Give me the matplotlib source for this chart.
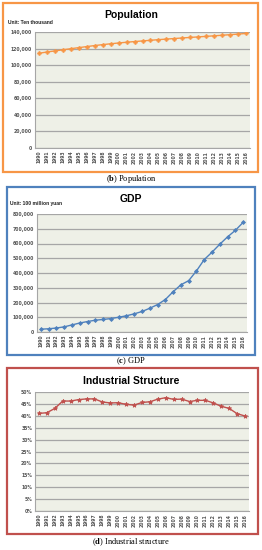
import matplotlib
matplotlib.use("Agg")
import matplotlib.pyplot as plt
from matplotlib.patches import Rectangle
from matplotlib.ticker import FuncFormatter, MultipleLocator

plt.rcParams["mathtext.fontset"] = "custom"
plt.rcParams["mathtext.rm"] = "Liberation Serif"
plt.rcParams["mathtext.bf"] = "Liberation Serif:bold"

years = [str(y) for y in range(1990, 2017)]

population = [114333, 115823, 117171, 118517, 119850, 121121, 122389, 123626,
              124761, 125786, 126743, 127627, 128453, 129227, 129988, 130756,
              131448, 132129, 132802, 133450, 134091, 134735, 135404, 136072,
              136782, 137462, 138271]

gdp = [19000, 22000, 27000, 35000, 48000, 61000, 71000, 80000, 85000, 91000,
       100000, 110000, 123000, 139000, 161000, 186000, 220000, 273000, 320000,
       348000, 414000, 491000, 541000, 595000, 645000, 689000, 743000]

industry = [41.0, 41.3, 43.1, 46.2, 46.2, 46.8, 47.1, 47.1, 45.8, 45.4, 45.5,
            44.8, 44.5, 45.6, 45.9, 47.0, 47.6, 46.9, 47.0, 46.0, 46.5, 46.5,
            45.4, 44.0, 43.1, 40.9, 39.9]

W, H = 262, 550
fig = plt.figure(figsize=(W / 100, H / 100), dpi=100)
fig.patch.set_facecolor("white")


def box(x0, y0, x1, y1):
    # pixel coords (top-left origin) -> figure fraction rect
    return [x0 / W, 1 - y1 / H, (x1 - x0) / W, (y1 - y0) / H]


def panel(frame, axrect, color, marker, ms, vals, ymax, ystep, fmt, title, unit, caption, cap_y):
    fx = box(*frame)
    fig.patches.append(Rectangle((fx[0], fx[1]), fx[2], fx[3], transform=fig.transFigure,
                                 fill=False, edgecolor=color, linewidth=1.6))
    ax = fig.add_axes(box(*axrect))
    ax.set_facecolor("#EEF0E7")
    x = list(range(len(years)))
    ax.plot(x, vals, color=color, marker=marker, markersize=ms, linewidth=1.0,
            markeredgewidth=0.6, zorder=3)
    ax.set_xlim(-0.5, len(years) - 0.5)
    ax.set_ylim(0, ymax)
    ax.yaxis.set_major_locator(MultipleLocator(ystep))
    ax.yaxis.set_major_formatter(FuncFormatter(fmt))
    ax.set_xticks(x)
    ax.set_xticklabels(years, rotation=90)
    ax.tick_params(axis="both", labelsize=3.3, length=0, pad=2, colors="#555555")
    ax.grid(axis="y", color="#A6A6A6", linewidth=0.9)
    ax.set_axisbelow(True)
    for s in ["top", "right"]:
        ax.spines[s].set_visible(False)
    for s in ["left", "bottom"]:
        ax.spines[s].set_color("#A6A6A6")
        ax.spines[s].set_linewidth(0.8)
    for lab in ax.get_xticklabels() + ax.get_yticklabels():
        lab.set_fontweight("bold")
    tx, ty = title
    fig.text(tx / W, 1 - ty / H, title_text[caption], ha="center", va="center",
             fontsize=7.5, fontweight="bold", family="Liberation Sans", color="black")
    if unit:
        ux, uy, ut = unit
        fig.text(ux / W, 1 - uy / H, ut, ha="left", va="center", fontsize=3.6,
                 fontweight="bold", family="Liberation Sans", color="#222222")
    fig.text(131 / W, 1 - cap_y / H, caption, ha="center", va="center", fontsize=6,
             family="Liberation Serif")
    return ax


title_text = {
    r"($\mathbf{b}$) Population": "Population",
    r"($\mathbf{c}$) GDP": "GDP",
    r"($\mathbf{d}$) Industrial structure": "Industrial Structure",
}

thousands = lambda v, p: "0" if v == 0 else f"{int(v):,}"
percent = lambda v, p: f"{int(round(v))}%"

panel((3, 3, 258, 172), (35, 32, 250, 148), "#F79646", "P", 2.6, population,
      140000, 20000, thousands, (131, 15), (8, 22, "Unit: Ten thousand"),
      r"($\mathbf{b}$) Population", 179)

panel((7, 187, 255, 355), (37, 214, 247, 332), "#4F81BD", "D", 2.0, gdp,
      800000, 100000, thousands, (131, 199), (10, 204, "Unit: 100 million yuan"),
      r"($\mathbf{c}$) GDP", 361)

panel((7, 368, 258, 534), (35, 392, 249, 511), "#C0504D", "*", 3.2, industry,
      50, 5, percent, (131, 381), None,
      r"($\mathbf{d}$) Industrial structure", 542)

fig.savefig("out.png", dpi=100)
